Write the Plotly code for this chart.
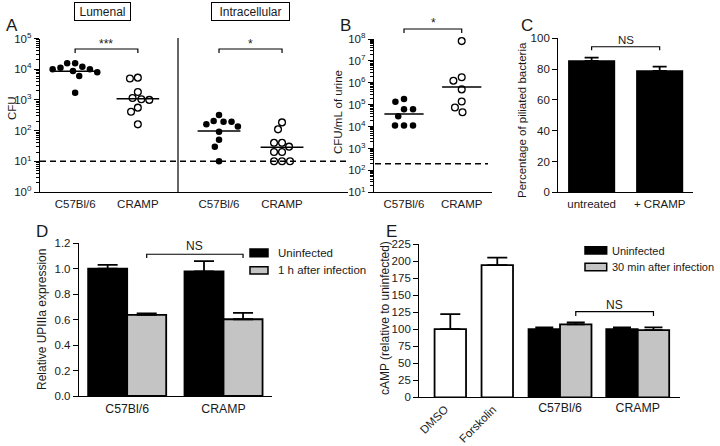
import math
import plotly.graph_objects as go

W, H = 720, 446
def fx(p): return p / W
def fy(p): return 1 - p / H

# ---------------- data ----------------
# Panel A (CFU, log scale)
a_groups = ["C57Bl/6", "CRAMP"]
lum_c57 = [10000, 15500, 10000, 12000, 7900, 6000, 15500, 8700, 11200, 1700]
lum_cramp = [5300, 5000, 1800, 1150, 1000, 1050, 560, 410, 160]
int_c57 = [320, 160, 195, 195, 205, 135, 92, 50, 30, 10]
int_cramp = [185, 110, 40, 30, 40, 20, 20, 10, 10, 10]
a_lod = 10
a_ticks = [1, 10, 100, 1000, 10000, 100000]
a_ticktext = ["10<sup>0</sup>", "10<sup>1</sup>", "10<sup>2</sup>", "10<sup>3</sup>", "10<sup>4</sup>", "10<sup>5</sup>"]

# Panel B (CFU/mL of urine)
b_groups = ["C57Bl/6", "CRAMP"]
b_c57 = [138000, 182000, 62000, 62000, 30000, 11200, 11200, 11200]
b_cramp = [80000000, 1800000, 1250000, 500000, 140000, 75000, 45000]
b_lod = 200
b_ticks = [10, 100, 1e3, 1e4, 1e5, 1e6, 1e7, 1e8]
b_ticktext = ["10<sup>%d</sup>" % k for k in range(1, 9)]

# Panel C
c_groups = ["untreated", "+ CRAMP"]
c_vals = [85.3, 78.8]
c_err = [2.2, 2.8]

# Panel D
d_groups = ["C57Bl/6", "CRAMP"]
d_series = ["Uninfected", "1 h after infection"]
d_uninf = [1.0, 0.98]
d_uninf_err = [0.03, 0.08]
d_inf = [0.637, 0.603]
d_inf_err = [0.012, 0.05]

# Panel E
e_ctrl = ["DMSO", "Forskolin"]
e_ctrl_vals = [100, 194]
e_ctrl_err = [22, 11]
e_groups = ["C57Bl/6", "CRAMP"]
e_series = ["Uninfected", "30 min after infection"]
e_uninf = [100, 100]
e_uninf_err = [2.7, 2.5]
e_inf = [107, 98.5]
e_inf_err = [3, 4]

# ---------------- styling ----------------
FONT = "Liberation Sans, Arial, sans-serif"
TXT = "#1a1a1a"
GRAY = "#c4c4c4"
FS = 11.5

def swarm(vals, px_per_unit, px_per_decade, size):
    ys = [math.log10(v) * px_per_decade for v in vals]
    placed = []
    offs = [0.0] * len(vals)
    order = sorted(range(len(vals)), key=lambda i: -ys[i])
    for i in order:
        y = ys[i]
        near = [(x, math.sqrt(size ** 2 - (y - yy) ** 2)) for x, yy in placed if abs(y - yy) < size]
        cands = [0.0] + [x - d for x, d in near] + [x + d for x, d in near]
        ok = [c for c in cands if all(abs(c - x) >= d - 1e-6 for x, d in near)]
        best = min(ok, key=lambda c: (abs(c), c))
        placed.append((best, y))
        offs[i] = best / px_per_unit
    return offs

def gmean(vals):
    return 10 ** (sum(math.log10(v) for v in vals) / len(vals))

fig = go.Figure()

def dots(vals, idx, xa, ya, ppu, ppd, filled, size_px=8):
    offs = swarm(vals, ppu, ppd, size_px)
    fig.add_trace(go.Scatter(
        x=[idx + o for o in offs], y=vals, mode="markers", xaxis=xa, yaxis=ya, cliponaxis=False,
        marker=dict(size=6.5 if filled else 6.8, color="black" if filled else "white",
                    line=dict(color="black", width=0 if filled else 1.3)),
        showlegend=False, hoverinfo="y"))
    g = gmean(vals)
    fig.add_trace(go.Scatter(x=[idx - 0.34, idx + 0.34], y=[g, g], mode="lines",
                             xaxis=xa, yaxis=ya, line=dict(color="black", width=1.5),
                             showlegend=False, hoverinfo="skip"))

# Panel A
A_PPU, A_PPD = 63.0, 30.7
dots(lum_c57, 0, "x", "y", A_PPU, A_PPD, True)
dots(lum_cramp, 1, "x", "y", A_PPU, A_PPD, False)
dots(int_c57, 0, "x2", "y", A_PPU, A_PPD, True)
dots(int_cramp, 1, "x2", "y", A_PPU, A_PPD, False)

# Panel B
B_PPU, B_PPD = 57.7, 21.9
dots(b_c57, 0, "x3", "y3", B_PPU, B_PPD, True, 9)
dots(b_cramp, 1, "x3", "y3", B_PPU, B_PPD, False, 9)

def errs(arr, w):
    return dict(type="data", array=arr, arrayminus=[0] * len(arr), symmetric=False,
                color="black", thickness=1.8, width=w)

# Panel C
fig.add_trace(go.Bar(x=c_groups, y=c_vals, xaxis="x4", yaxis="y4", width=0.67, offset=-0.335,
                     marker=dict(color="black", line=dict(color="black", width=1.5)),
                     error_y=errs(c_err, 7), showlegend=False))

# Panel D
fig.add_trace(go.Bar(x=d_groups, y=d_uninf, name=d_series[0], xaxis="x5", yaxis="y5",
                     marker=dict(color="black", line=dict(color="black", width=1.8)),
                     error_y=errs(d_uninf_err, 10), showlegend=False))
fig.add_trace(go.Bar(x=d_groups, y=d_inf, name=d_series[1], xaxis="x5", yaxis="y5",
                     marker=dict(color=GRAY, line=dict(color="black", width=1.8)),
                     error_y=errs(d_inf_err, 10), showlegend=False))

# Panel E
fig.add_trace(go.Bar(x=e_ctrl, y=e_ctrl_vals, xaxis="x6", yaxis="y6", width=0.67, offset=-0.335,
                     marker=dict(color="white", line=dict(color="black", width=1.8)),
                     error_y=errs(e_ctrl_err, 10), showlegend=False))
fig.add_trace(go.Bar(x=e_groups, y=e_uninf, name=e_series[0], xaxis="x7", yaxis="y6",
                     marker=dict(color="black", line=dict(color="black", width=1.8)),
                     error_y=errs(e_uninf_err, 9), showlegend=False))
fig.add_trace(go.Bar(x=e_groups, y=e_inf, name=e_series[1], xaxis="x7", yaxis="y6",
                     marker=dict(color=GRAY, line=dict(color="black", width=1.8)),
                     error_y=errs(e_inf_err, 9), showlegend=False))

# ---------------- axes ----------------
tickfont = dict(family=FONT, size=FS, color=TXT)
tickfont_big = dict(family=FONT, size=12.3, color=TXT)
common = dict(showgrid=False, zeroline=False, showline=True, linecolor="black", linewidth=1.4,
              tickfont=tickfont, tickcolor="black", automargin=False)
xcommon = dict(common, ticks="", ticklabelstandoff=1)
ycommon = dict(common, ticks="outside", ticklen=5, tickwidth=1.2)

def minor_log(lo, hi):
    vals = [m * 10 ** k for k in range(lo, hi) for m in range(2, 10)]
    return dict(ticks="outside", ticklen=2.5, tickwidth=0.8, tickcolor="black",
                tickmode="array", tickvals=vals, showgrid=False)

fig.update_layout(
    template="none",
    width=W, height=H, margin=dict(l=0, r=0, t=0, b=0, pad=0, autoexpand=False),
    paper_bgcolor="white", plot_bgcolor="white", showlegend=False,
    barmode="group", bargap=0.19, bargroupgap=0,
    font=dict(family=FONT, color=TXT, size=FS),
    xaxis=dict(xcommon, domain=[fx(40), fx(178)], range=[-0.56, 1.64], anchor="y",
               tickmode="array", tickvals=[0, 1], ticktext=a_groups),
    xaxis2=dict(xcommon, domain=[fx(178), fx(348)], range=[-0.651, 2.047], anchor="y",
                tickmode="array", tickvals=[0, 1], ticktext=a_groups),
    yaxis=dict(ycommon, domain=[fy(192), fy(38.5)], type="log", range=[0, 5], anchor="x",
               tickmode="array", tickvals=a_ticks, ticktext=a_ticktext, minor=minor_log(0, 5)),
    xaxis3=dict(xcommon, domain=[fx(374), fx(492)], range=[-0.52, 1.525], anchor="y3",
                tickmode="array", tickvals=[0, 1], ticktext=b_groups),
    yaxis3=dict(ycommon, domain=[fy(192.3), fy(39)], type="log", range=[1, 8], anchor="x3",
                tickmode="array", tickvals=b_ticks, ticktext=b_ticktext, minor=minor_log(1, 8)),
    xaxis4=dict(xcommon, domain=[fx(558.3), fx(693)], range=[-0.49, 1.49], anchor="y4"),
    yaxis4=dict(ycommon, domain=[fy(192.3), fy(38.3)], range=[0, 100], dtick=20, anchor="x4"),
    xaxis5=dict(xcommon, domain=[fx(79), fx(271.7)], range=[-0.5, 1.5], anchor="y5",
                tickfont=tickfont_big),
    yaxis5=dict(ycommon, domain=[fy(396), fy(243.3)], range=[0, 1.2], dtick=0.2,
                tickformat=".1f", anchor="x5"),
    xaxis6=dict(xcommon, domain=[fx(419.3), fx(680)], range=[-0.66, 4.89], anchor="y6",
                showticklabels=False),
    xaxis7=dict(xcommon, overlaying="x6", range=[-1.811, 1.544], anchor="y6", showline=False,
                tickfont=tickfont_big),
    yaxis6=dict(ycommon, domain=[fy(397.3), fy(244)], range=[0, 225], dtick=25, anchor="x6"),
)

shapes = []
ann = []

def label(text, x, y, size=FS, angle=0, xanchor="center", yanchor="middle", **kw):
    d = dict(text=text, x=fx(x), y=fy(y), xref="paper", yref="paper", showarrow=False,
             textangle=angle, xanchor=xanchor, yanchor=yanchor,
             font=dict(family=FONT, size=size, color=TXT))
    d.update(kw)
    ann.append(d)

# LOD dashed lines
shapes.append(dict(type="line", xref="paper", yref="y", x0=fx(40), x1=fx(350), y0=a_lod, y1=a_lod,
                   line=dict(color="black", width=1.4, dash="6px,4px")))
shapes.append(dict(type="line", xref="paper", yref="y3", x0=fx(375), x1=fx(488), y0=b_lod, y1=b_lod,
                   line=dict(color="black", width=1.4, dash="6px,4px")))
# divider in A
shapes.append(dict(type="line", xref="paper", yref="paper", x0=fx(178), x1=fx(178), y0=fy(192), y1=fy(38),
                   line=dict(color="black", width=1.2)))

def bracket(xref, x0, x1, ytop, ybot, yref="paper"):
    if yref == "paper":
        yt, yb = fy(ytop), fy(ybot)
    else:
        yt, yb = ytop, ybot
    shapes.append(dict(type="path", xref=xref, yref=yref,
                       path="M %f,%f L %f,%f L %f,%f L %f,%f" % (x0, yb, x0, yt, x1, yt, x1, yb),
                       line=dict(color="black", width=1.2)))

# A brackets
bracket("x", 0, 1, 49, 53)
bracket("x2", 0, 1, 49, 53)
label("***", 106, 44, size=12)
label("*", 250.5, 44, size=12)
# B bracket
bracket("x3", 0, 1, 29, 33)
label("*", 433, 23, size=12)
# C bracket
bracket("x4", 0, 1, 94.5, 92.3, yref="y4")
ann.append(dict(text="NS", x=0.5, y=98.6, xref="x4", yref="y4", showarrow=False,
                font=dict(family=FONT, size=FS, color=TXT)))
# D bracket (between infected bars)
bracket("x5", 0.2025, 1.2025, 1.114, 1.085, yref="y5")
ann.append(dict(text="NS", x=0.7025, y=1.175, xref="x5", yref="y5", showarrow=False,
                font=dict(family=FONT, size=12, color=TXT)))
# E bracket
bracket("x7", 0.2025, 1.2025, 125.7, 119.4, yref="y6")
ann.append(dict(text="NS", x=0.7025, y=135.5, xref="x7", yref="y6", showarrow=False,
                font=dict(family=FONT, size=12, color=TXT)))

# E group tick labels on overlay axis
fig.update_layout(xaxis7=dict(tickmode="array", tickvals=[0, 1], ticktext=e_groups))

# E rotated control labels
for cat in e_ctrl:
    ann.append(dict(text=cat, x=cat, y=fy(400), xref="x6", yref="paper", showarrow=False,
                    textangle=-45, xanchor="right", yanchor="top", xshift=4,
                    font=dict(family=FONT, size=11.5, color=TXT)))

# Box titles in A
label("Lumenal", 102.5, 12, size=12, bordercolor="black", borderwidth=1, borderpad=1, width=53, height=15)
label("Intracellular", 250.5, 12, size=12, bordercolor="black", borderwidth=1, borderpad=1, width=75, height=15)

# Panel letters
for t, x, y in [("A", 12, 26), ("B", 345, 25), ("C", 527, 25), ("D", 42, 232), ("E", 392, 232)]:
    label(t, x, y, size=17)

# Axis titles
label("CFU", 12, 108, angle=-90)
label("CFU/mL of urine", 338, 112, angle=-90)
label("Percentage of piliated bacteria", 522, 120, angle=-90)
label("Relative UPIIIa expression", 42, 320, angle=-90, size=12)
label("cAMP (relative to uninfected)", 385, 318, angle=-90, size=12)

# Legends (D and E)
def legend_item(x0, x1, y0, y1, color, text, tx, ty, size):
    shapes.append(dict(type="rect", xref="paper", yref="paper", x0=fx(x0), x1=fx(x1), y0=fy(y1), y1=fy(y0),
                       fillcolor=color, line=dict(color="black", width=1.5)))
    label(text, tx, ty, xanchor="left", size=size)

legend_item(250, 268, 249, 256.7, "black", d_series[0], 276, 252.7, 11.5)
legend_item(250, 268, 266.7, 274, GRAY, d_series[1], 276, 270.2, 11.5)
legend_item(585, 606.7, 246.7, 254, "black", e_series[0], 610, 250.7, 11)
legend_item(585, 606.7, 263.3, 270.7, GRAY, e_series[1], 610, 267.3, 11)

fig.update_layout(shapes=shapes, annotations=ann)
fig.write_html("out.html", config={"displayModeBar": False},
               post_script="document.body.style.margin='0px';document.body.style.overflow='hidden';")
